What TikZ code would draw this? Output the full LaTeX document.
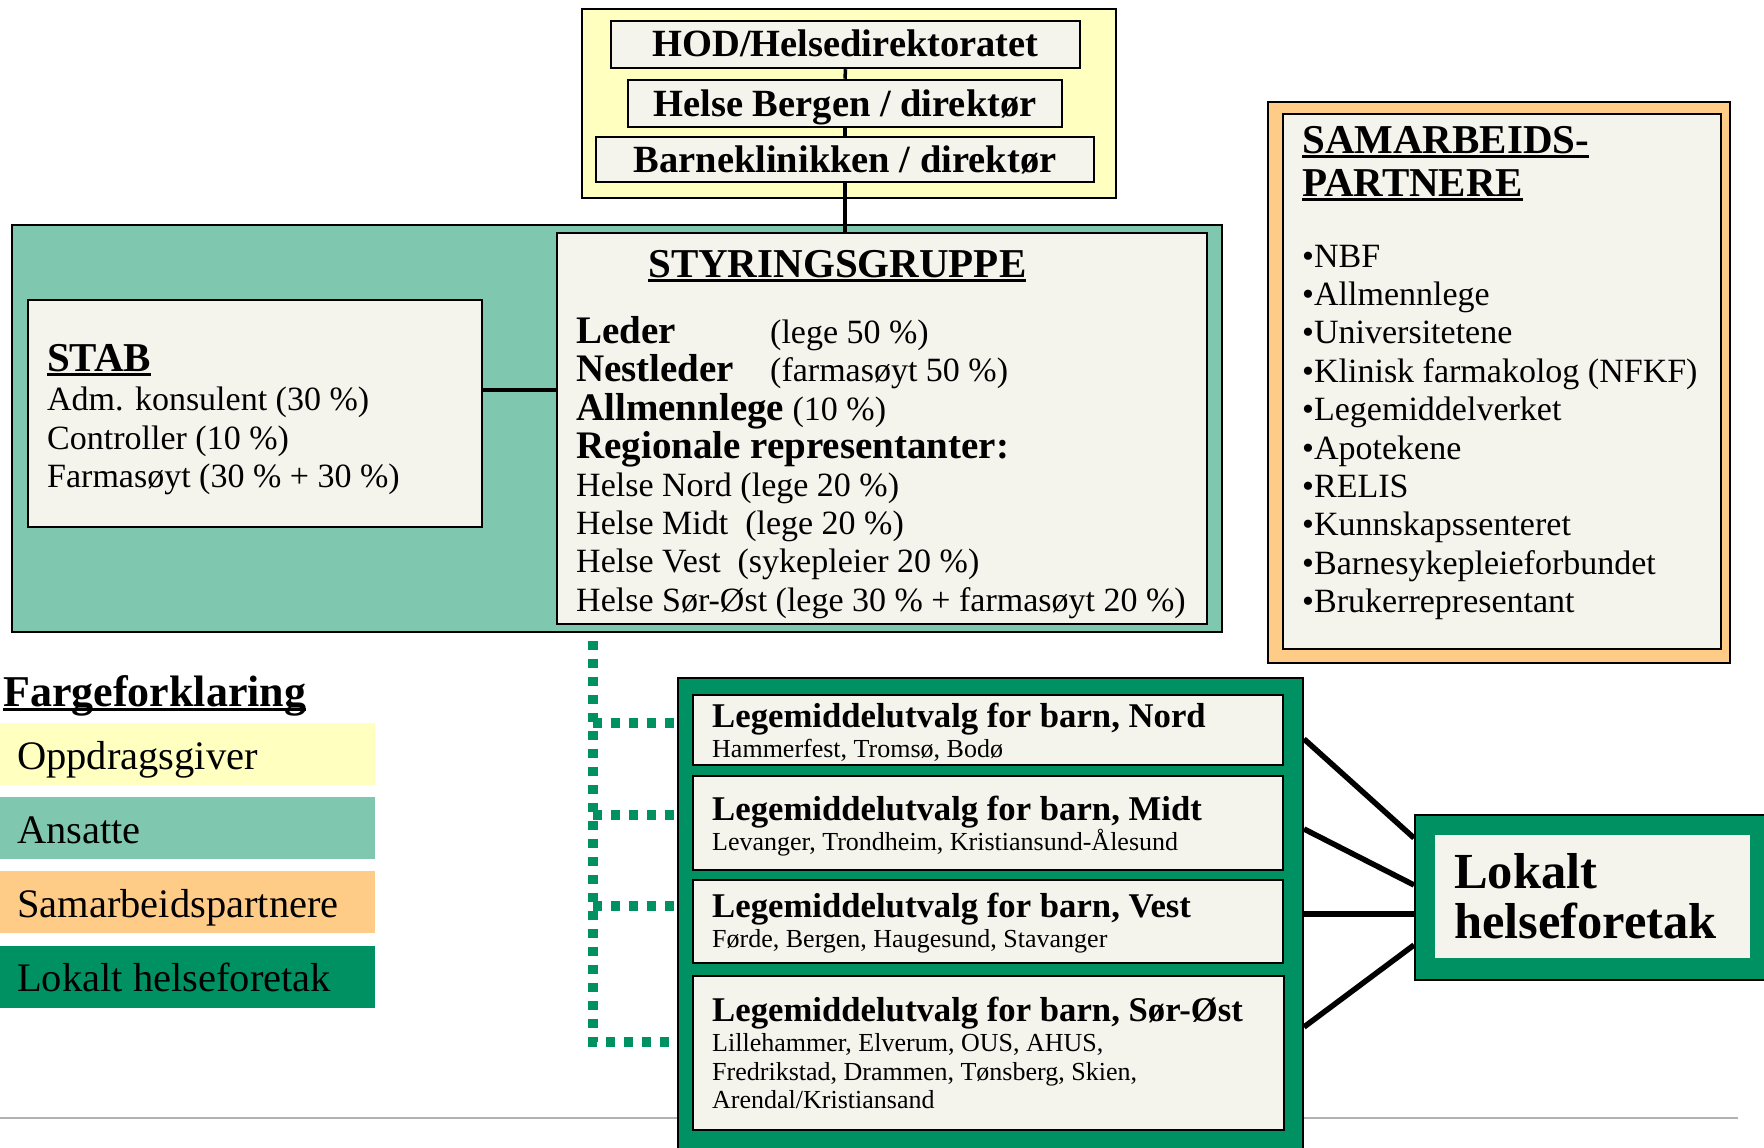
\documentclass[tikz,border=0pt]{standalone}
\usepackage{fontspec}
\setmainfont{Liberation Serif}
\usepackage{tikz}

\definecolor{gulfarge}{HTML}{FFFFC0}
\definecolor{ansattfarge}{HTML}{7FC7AF}
\definecolor{partnerfarge}{HTML}{FFCC88}
\definecolor{lokalfarge}{HTML}{009163}
\definecolor{krem}{HTML}{F4F4EC}

\newcommand\storfet{\bfseries\fontsize{41}{44}\selectfont}
\newcommand\toppfet{\bfseries\fontsize{38.5}{40}\selectfont}
\newcommand\brodtekst{\fontsize{34}{38}\selectfont}
\newcommand\fet[1]{{\bfseries\fontsize{39}{40}\selectfont #1}}
\newcommand\utvalgfet{\bfseries\fontsize{34.7}{36}\selectfont}
\newcommand\utvalgtekst{\fontsize{26}{29}\selectfont}
\newcommand\forklaring{\fontsize{40.5}{42}\selectfont}
\newcommand\lokalfet{\bfseries\fontsize{50.5}{51}\selectfont}
\newcommand\strek[1]{\setbox0=\hbox{#1}\leavevmode\rlap{\rule[-5pt]{\wd0}{3pt}}\box0}

\tikzset{
  ramme/.style={draw, line width=2pt, inner sep=0pt},
  boks/.style={draw, line width=2.5pt, fill=krem, inner sep=0pt},
  toppboks/.style={boks, font=\toppfet, text height=25pt, text depth=0pt},
  tekst/.style={anchor=base west, inner sep=0pt},
  linje/.style={line width=3.5pt},
  skraa/.style={line width=5.5pt},
  prikk/.style={draw=lokalfarge, line width=10pt, dash pattern=on 9pt off 9pt},
}

\begin{document}
\begin{tikzpicture}[x=1pt,y=-1pt]
  \useasboundingbox (0,0) rectangle (1764,1148);

  % Grå linje nederst
  \draw[gray!60, line width=2pt] (0,1118) -- (1738,1118);

  % Oppdragsgiver
  \node[ramme, fill=gulfarge, minimum width=534pt, minimum height=189pt] (oppdrag) at (849,103.5) {};
  \node[toppboks, minimum width=469pt, minimum height=47pt] (hod) at (845.5,44.5) {HOD/Helsedirektoratet};
  \node[toppboks, minimum width=434pt, minimum height=47pt] (bergen) at (845,103.5) {Helse Bergen / direktør};
  \node[toppboks, minimum width=498pt, minimum height=45pt] (barne) at (845,159.5) {Barneklinikken / direktør};

  % Ansatte
  \node[ramme, fill=ansattfarge, minimum width=1210pt, minimum height=407pt] (ansatte) at (617,428.5) {};
  \node[boks, minimum width=454pt, minimum height=227pt] (stab) at (255,413.5) {};
  \node[boks, minimum width=650pt, minimum height=391pt] (styr) at (882,428.5) {};

  \draw[linje] (hod.south) -- (bergen.north);
  \draw[linje] (bergen.south) -- (barne.north);
  \draw[linje] (barne.south) -- (barne.south |- styr.north);
  \draw[linje] ([yshift=23.5pt]stab.east) -- ([yshift=23.5pt]stab.east -| styr.west);

  % STAB
  \node[tekst, font=\storfet] (stabnavn) at (47,371) {\strek{STAB}};
  \foreach \t [count=\i] in {Adm. konsulent (30 \%), Controller (10 \%), Farmasøyt (30 \% + 30 \%)}
    \node[tekst, font=\brodtekst] (stab\i) at (47,{372.5+38.3*\i}) {\t};

  % Styringsgruppe
  \node[tekst, font=\storfet] (styrnavn) at (648,277) {\strek{STYRINGSGRUPPE}};
  \node[tekst, font=\brodtekst] (leder) at (576,343) {\fet{Leder}};
  \node[tekst, font=\brodtekst] (lederandel) at (770,343) {(lege 50 \%)};
  \node[tekst, font=\brodtekst] (nestleder) at (576,381) {\fet{Nestleder}};
  \node[tekst, font=\brodtekst] (nestlederandel) at (770,381) {(farmasøyt 50 \%)};
  \node[tekst, font=\brodtekst] (allmenn) at (576,420) {\fet{Allmennlege} (10 \%)};
  \node[tekst, font=\brodtekst] (regionale) at (576,458) {\fet{Regionale representanter:}};
  \foreach \t [count=\i] in {Helse Nord (lege 20 \%), Helse Midt\ \ (lege 20 \%), Helse Vest\ \ (sykepleier 20 \%), Helse Sør-Øst (lege 30 \% + farmasøyt 20 \%)}
    \node[tekst, font=\brodtekst] (region\i) at (576,{458+38.3*\i}) {\t};

  % Samarbeidspartnere
  \node[ramme, fill=partnerfarge, minimum width=462pt, minimum height=561pt] (partnere) at (1499,382.5) {};
  \node[boks, minimum width=438pt, minimum height=535pt] (partnerliste) at (1502,381.5) {};
  \node[tekst, font=\storfet] (partnernavn1) at (1302,153) {\strek{SAMARBEIDS-}};
  \node[tekst, font=\storfet] (partnernavn2) at (1302,196) {\strek{PARTNERE}};
  \foreach \t [count=\i] in {NBF, Allmennlege, Universitetene, Klinisk farmakolog (NFKF), Legemiddelverket, Apotekene, RELIS, Kunnskapssenteret, Barnesykepleieforbundet, Brukerrepresentant}
    \node[tekst, font=\brodtekst] (partner\i) at (1302,{228.6+38.4*\i}) {•\t};

  % Fargeforklaring
  \node[tekst, font=\bfseries\fontsize{44}{46}\selectfont] (forklaring) at (3,706) {\strek{Fargeforklaring}};
  \foreach \farge/\t [count=\i] in {gulfarge/Oppdragsgiver, ansattfarge/Ansatte, partnerfarge/Samarbeidspartnere, lokalfarge/Lokalt helseforetak}{
    \node[fill=\farge, inner sep=0pt, minimum width=375pt, minimum height=62pt] (farge\i) at (187.5,{754+74.2*(\i-1)}) {};
    \node[tekst, font=\forklaring] (fargenavn\i) at (17,{769.5+74*(\i-1)}) {\t};
  }

  % Lokale legemiddelutvalg
  \coordinate (prikktopp) at (593,641);
  \draw[prikk] (prikktopp) -- (prikktopp |- 0,1042) -- (678,1042);
  \foreach \y in {723,815,906}
    \draw[prikk] (prikktopp |- 0,\y) -- (678,\y);

  \node[ramme, fill=lokalfarge, minimum width=625pt, minimum height=482pt] (gronn) at (990.5,919) {};
  \node[boks, minimum width=590pt, minimum height=70pt] (nord) at (988,730) {};
  \node[boks, minimum width=590pt, minimum height=94pt] (midt) at (988,823) {};
  \node[boks, minimum width=590pt, minimum height=83pt] (vest) at (988,921.5) {};
  \node[boks, minimum width=591pt, minimum height=154pt] (sorost) at (988.5,1053) {};

  \node[tekst, font=\utvalgfet] (nordnavn) at (712,727) {Legemiddelutvalg for barn, Nord};
  \node[tekst, font=\utvalgtekst] (nordsted) at (712,757) {Hammerfest, Tromsø, Bodø};
  \node[tekst, font=\utvalgfet] (midtnavn) at (712,820) {Legemiddelutvalg for barn, Midt};
  \node[tekst, font=\utvalgtekst] (midtsted) at (712,850.5) {Levanger, Trondheim, Kristiansund-Ålesund};
  \node[tekst, font=\utvalgfet] (vestnavn) at (712,917) {Legemiddelutvalg for barn, Vest};
  \node[tekst, font=\utvalgtekst] (veststed) at (712,947) {Førde, Bergen, Haugesund, Stavanger};
  \node[tekst, font=\utvalgfet] (sorostnavn) at (712,1021.5) {Legemiddelutvalg for barn, Sør-Øst};
  \node[tekst, font=\utvalgtekst] (sorost1) at (712,1051) {Lillehammer, Elverum, OUS, AHUS,};
  \node[tekst, font=\utvalgtekst] (sorost2) at (712,1080) {Fredrikstad, Drammen, Tønsberg, Skien,};
  \node[tekst, font=\utvalgtekst] (sorost3) at (712,1108) {Arendal/Kristiansand};

  % Lokalt helseforetak
  \node[ramme, fill=lokalfarge, minimum width=360pt, minimum height=165pt] (lokalt) at (1595,897.5) {};
  \node[fill=krem, inner sep=0pt, minimum width=315pt, minimum height=123pt] (lokaltindre) at (1592.5,896.5) {};
  \node[tekst, font=\lokalfet] (lokaltnavn1) at (1454,888) {Lokalt};
  \node[tekst, font=\lokalfet] (lokaltnavn2) at (1454,938) {helseforetak};

  \draw[skraa] (gronn.east |- 0,739) -- (lokalt.west |- 0,838);
  \draw[skraa] (gronn.east |- 0,829) -- (lokalt.west |- 0,885);
  \draw[skraa] (gronn.east |- 0,914) -- (lokalt.west |- 0,914);
  \draw[skraa] (gronn.east |- 0,1027) -- (lokalt.west |- 0,945);
\end{tikzpicture}
\end{document}
